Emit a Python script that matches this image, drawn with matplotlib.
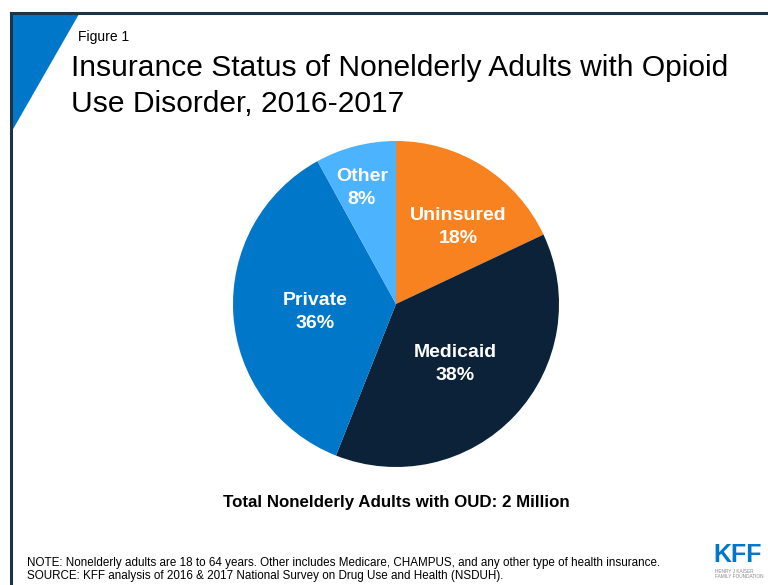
import matplotlib.pyplot as plt
from matplotlib.patches import Polygon
from matplotlib.lines import Line2D

plt.rcParams['font.family'] = ['Liberation Sans', 'DejaVu Sans']

labels = ['Uninsured', 'Medicaid', 'Private', 'Other']
shares = [18, 38, 36, 8]
colors = ['#F7821F', '#0B2239', '#0077C8', '#4CB3FF']

W, H = 768, 585
fig = plt.figure(figsize=(W / 100, H / 100), dpi=100)
fig.patch.set_facecolor('white')

# frame lines and corner triangle (figure pixel coords, y from top)
def px(x, y):
    return x / W, 1 - y / H

fig.add_artist(Line2D([px(11, 0)[0], px(11, 0)[0]], [px(0, 13)[1], 0],
                      color='#1F3347', lw=2.2))
fig.add_artist(Line2D([px(11, 0)[0], 1], [px(0, 13)[1], px(0, 13)[1]],
                      color='#1F3347', lw=2.2))
fig.add_artist(Polygon([px(12, 14), px(79, 14), px(12, 131)], closed=True,
                       facecolor='#0077C8', edgecolor='none'))

fig.text(*px(78, 41), 'Figure 1', fontsize=10, va='baseline', ha='left')
fig.text(*px(71, 76), 'Insurance Status of Nonelderly Adults with Opioid',
         fontsize=21.6, va='baseline', ha='left')
fig.text(*px(71, 112), 'Use Disorder, 2016-2017',
         fontsize=21.6, va='baseline', ha='left')

# pie
cx, cy, r = 396, 304, 163
ax = fig.add_axes([(cx - r) / W, 1 - (cy + r) / H, 2 * r / W, 2 * r / H])
wedges, _ = ax.pie(shares, colors=colors, startangle=90, counterclock=False,
                   wedgeprops=dict(linewidth=0))
ax.set_aspect('auto')
ax.set_xlim(-1, 1)
ax.set_ylim(-1, 1)
ax.axis('off')

label_pos = [(458, 227), (455, 364), (315, 312), (362, 188)]
for name, val, (lx, ly) in zip(labels, shares, label_pos):
    fig.text(*px(lx, ly), f'{name}\n{val}%', color='white', fontsize=14,
             fontweight='bold', ha='center', va='center', linespacing=1.4)

fig.text(*px(396, 503), 'Total Nonelderly Adults with OUD: 2 Million',
         fontsize=12.2, fontweight='bold', ha='center', va='center')

fig.text(*px(27, 563), 'NOTE: Nonelderly adults are 18 to 64 years. Other includes Medicare, CHAMPUS, and any other type of health insurance.',
         fontsize=8.4, ha='left', va='center')
fig.text(*px(27, 576), 'SOURCE: KFF analysis of 2016 & 2017 National Survey on Drug Use and Health (NSDUH).',
         fontsize=8.4, ha='left', va='center')

# KFF logo
fig.text(*px(713, 562), 'KFF', color='#0077C8', fontsize=18, fontweight='heavy',
         ha='left', va='baseline')
fig.text(*px(715, 574), 'HENRY J KAISER\nFAMILY FOUNDATION', color='#888888', fontsize=3.4,
         ha='left', va='center', linespacing=1.0)

fig.savefig('out.png', dpi=100, facecolor='white')
